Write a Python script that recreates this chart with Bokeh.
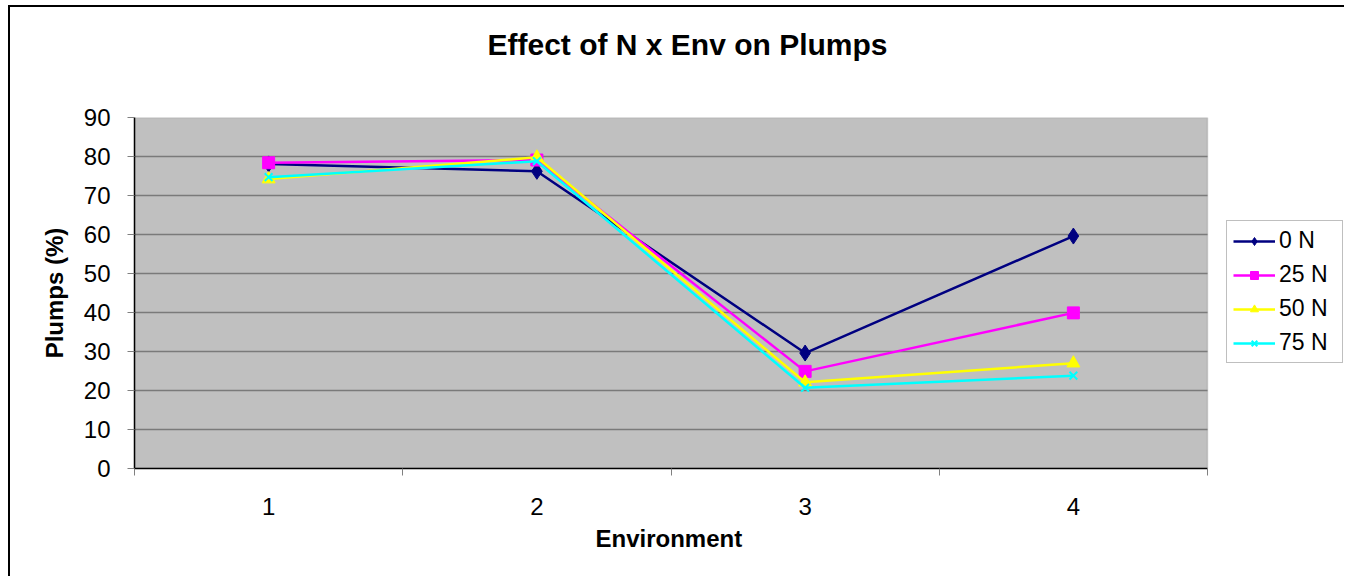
from bokeh.plotting import figure
from bokeh.models import FixedTicker, Legend, LegendItem, Range1d, BoxAnnotation, Title
from bokeh.embed import file_html
from bokeh.resources import INLINE

environments = [1, 2, 3, 4]
env_labels = ["1", "2", "3", "4"]
n0 = [78.1, 76.2, 29.6, 59.6]
n25 = [78.4, 79.1, 24.9, 39.9]
n50 = [74.2, 79.8, 22.1, 27.0]
n75 = [74.7, 78.8, 20.7, 23.8]
y_ticks = [0, 10, 20, 30, 40, 50, 60, 70, 80, 90]

FONT = "Liberation Sans"

# layout: plot area is 1073 px wide for the 4 categories; the frame extends further
# to the right so the legend (drawn inside the frame) can sit beside the plot area.
W, H = 1344, 576
LEFT, TOP, BOTTOM = 134, 117, 108
AREA_W = 1073
x0, x1 = 0.5, 4.5
x_end = x0 + (x1 - x0) * (W - LEFT) / AREA_W

p = figure(width=W, height=H, output_backend="svg", toolbar_location=None,
           x_range=Range1d(x0, x_end), y_range=Range1d(0, 90),
           min_border_left=LEFT, min_border_right=0, min_border_top=TOP, min_border_bottom=BOTTOM)
p.styles = {"background": "linear-gradient(#000,#000) 8px 5px / 2px 700px no-repeat, "
                          "linear-gradient(#000,#000) 8px 5px / 2000px 2px no-repeat, #fff"}

p.title.text = "Effect of N x Env on Plumps\n"
p.title.align = "left"
p.title.text_font = FONT
p.title.text_font_size = "30px"
p.title.text_font_style = "bold"
p.title.text_color = "black"
p.title.text_line_height = 1.2
p.title.offset = 353
p.title.standoff = 33

p.background_fill_color = "white"
p.border_fill_color = "white"
p.border_fill_alpha = 0
p.outline_line_color = None

plot_area = BoxAnnotation(left=x0, right=x1, bottom=0, top=90, level="image",
                          fill_color="#C0C0C0", fill_alpha=1,
                          line_color="#808080", line_width=1.5)
p.add_layout(plot_area)

# axes
p.xaxis.bounds = (x0, x1)
p.xaxis.ticker = FixedTicker(ticks=environments, minor_ticks=[0.5, 1.5, 2.5, 3.5, 4.5])
p.xaxis.major_label_overrides = {e: l for e, l in zip(environments, env_labels)}
p.xaxis.major_tick_out = 0
p.xaxis.major_tick_in = 0
p.xaxis.minor_tick_out = 7
p.xaxis.minor_tick_in = 0
p.xaxis.minor_tick_line_color = "#808080"
p.xaxis.major_label_standoff = 22

xlabel = Title(text="Environment", align="left", offset=461, vertical_align="top",
               standoff=14, text_font=FONT, text_font_size="24px",
               text_font_style="bold", text_color="black")
p.add_layout(xlabel, "below")

p.yaxis.ticker = FixedTicker(ticks=y_ticks, minor_ticks=[])
p.yaxis.major_tick_out = 7
p.yaxis.major_tick_in = 0
p.yaxis.major_tick_line_color = "#808080"
p.yaxis.major_label_standoff = 17
p.yaxis.axis_label = "Plumps (%)"
p.yaxis.axis_label_standoff = 13

for ax in (p.xaxis, p.yaxis):
    ax.axis_line_color = "black"
    ax.axis_line_width = 1.5
    ax.major_label_text_font = FONT
    ax.major_label_text_font_size = "24px"
    ax.major_label_text_color = "black"
    ax.axis_label_text_font = FONT
    ax.axis_label_text_font_size = "24px"
    ax.axis_label_text_font_style = "bold"
    ax.axis_label_text_color = "black"

p.xgrid.grid_line_color = None
p.ygrid.ticker = FixedTicker(ticks=y_ticks)
p.ygrid.cross_bounds = (x0, x1)
p.ygrid.grid_line_color = "#7a7a7a"
p.ygrid.grid_line_width = 1.5

series = [
    ("0 N", n0, "#000080", "diamond", 16),
    ("25 N", n25, "#FF00FF", "square", 12),
    ("50 N", n50, "#FFFF00", "triangle", 13),
    ("75 N", n75, "#00FFFF", "x", 11),
]
items = []
for label, vals, color, marker, size in series:
    l = p.line(environments, vals, line_color=color, line_width=2.5)
    s = p.scatter(environments, vals, marker=marker, size=size, fill_color=color,
                  line_color=color, line_width=2 if marker == "x" else 1)
    items.append(LegendItem(label=label, renderers=[l, s]))

legend = Legend(items=items, location=(1092, 105))
legend.label_text_font = FONT
legend.label_text_font_size = "23px"
legend.label_text_color = "black"
legend.glyph_width = 42
legend.glyph_height = 20
legend.label_standoff = 4
legend.label_width = 57
legend.padding = 6
legend.margin = 0
legend.spacing = 7
legend.border_line_color = "#808080"
legend.border_line_width = 1
legend.background_fill_color = "white"
legend.background_fill_alpha = 1
p.add_layout(legend)

open("out.html", "w").write(file_html(p, INLINE))
